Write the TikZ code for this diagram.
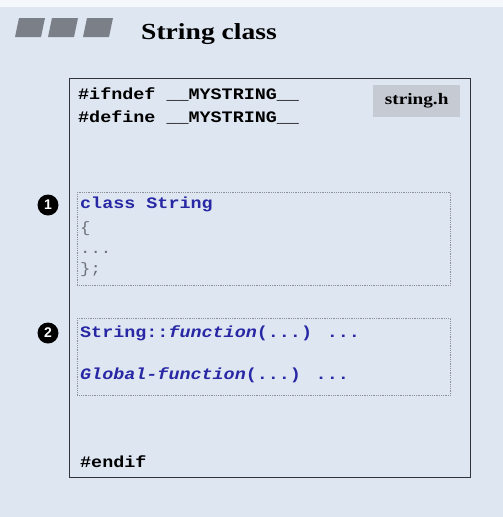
\documentclass[tikz,border=0pt]{standalone}
\usepackage{fontspec}
\setmainfont{Liberation Serif}
\newfontfamily\codefont[FakeStretch=1.15]{Liberation Mono}
\newfontfamily\headfont[FakeStretch=1.2]{Liberation Serif}
\newfontfamily\numfont{Liberation Sans}
\definecolor{slidebg}{RGB}{222,230,242}
\definecolor{codeblue}{RGB}{40,40,165}
\definecolor{tabgray}{RGB}{198,202,210}
\definecolor{markgray}{RGB}{122,127,136}
\definecolor{framegray}{RGB}{50,52,58}
\definecolor{dotgray}{RGB}{140,144,152}
\definecolor{bracegray}{RGB}{110,112,120}
\tikzset{
  code/.style={inner sep=0pt, anchor=base west, font=\codefont\bfseries\fontsize{16}{18}\selectfont},
  bluecode/.style={code, text=codeblue},
  greycode/.style={inner sep=0pt, anchor=base west, text=bracegray, font=\codefont\fontsize{15}{18}\selectfont},
  sectionbox/.style={draw=dotgray, densely dotted, line width=0.8pt, anchor=north west, inner sep=0pt},
  bullet/.style={circle, fill=black, text=white, minimum size=21pt, inner sep=0pt, font=\numfont\bfseries\fontsize{14}{14}\selectfont},
  headmark/.style={fill=markgray}
}
\begin{document}
\begin{tikzpicture}[x=1pt, y=-1pt]
  \useasboundingbox (0,0) rectangle (503,517);
  % slide background
  \fill[slidebg] (0,0) rectangle (503,517);
  \fill[white!70!slidebg] (0,0) rectangle (503,7);

  % heading marks and title
  \fill[headmark] (19,18) -- (45,18) -- (41,37) -- (15,37) -- cycle;
  \fill[headmark] (52,18) -- (78,18) -- (74,37) -- (48,37) -- cycle;
  \fill[headmark] (87,18) -- (113,18) -- (109,37) -- (83,37) -- cycle;
  \node (title) [inner sep=0pt, anchor=base west, font=\headfont\bfseries\fontsize{23}{26}\selectfont] at (141,39) {String class};

  % header file frame
  \node (frame) [draw=framegray, line width=1pt, anchor=north west, minimum width=401pt, minimum height=399pt, inner sep=0pt] at (69,78) {};
  \node (tab) [fill=tabgray, anchor=north west, minimum width=87pt, minimum height=32pt, inner sep=0pt] at (373,85) {};
  \node (fname) [inner sep=0pt, font=\headfont\bfseries\fontsize{16}{18}\selectfont] at (tab.center) {string.h};

  % include guard
  \node (ifndef) [code] at (78,99) {\#ifndef \_\_MYSTRING\_\_};
  \node (define) [code] at (78,122) {\#define \_\_MYSTRING\_\_};

  % part 1: class declaration
  \node (box1) [sectionbox, minimum width=373pt, minimum height=93pt] at (77,192) {};
  \node (n1) [bullet] at (48,205) {1};
  \node (cls) [bluecode] at (80,208) {class String};
  \node (open) [greycode] at (80,232) {\{};
  \node (dots) [greycode] at (80,253) {...};
  \node (close) [greycode] at (80,273) {\};};

  % part 2: function definitions
  \node (box2) [sectionbox, minimum width=373pt, minimum height=77pt] at (77,318) {};
  \node (n2) [bullet] at (48,333) {2};
  \node (memb) [bluecode] at (80,337) {String::\textit{function}(...) ...};
  \node (glob) [bluecode] at (80,379) {\textit{Global-function}(...) ...};

  % end of guard
  \node (endif) [code] at (80,467) {\#endif};
\end{tikzpicture}
\end{document}
